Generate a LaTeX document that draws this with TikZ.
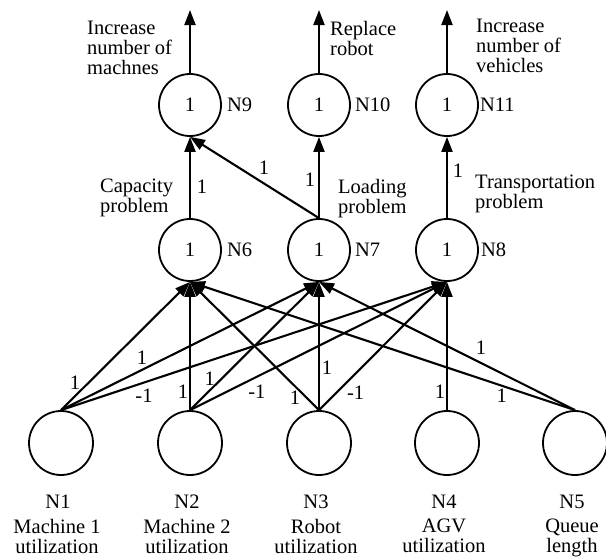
\documentclass[tikz,border=0pt]{standalone}
\usepackage{fontspec}
\setmainfont{Liberation Serif}
\usetikzlibrary{arrows.meta, positioning}

\begin{document}
\begin{tikzpicture}[x=1pt, y=-1pt,
  font=\fontsize{20.5}{20}\selectfont,
  inp/.style={draw, circle, line width=1.8pt, minimum size=64pt, inner sep=0pt},
  hid/.style={draw, circle, line width=1.8pt, minimum size=62pt, inner sep=0pt},
  link/.style={line width=2.1pt, -{Triangle[length=15pt, width=11pt]}},
  wt/.style={inner sep=0pt},
  lbl/.style={align=left, inner sep=0pt, anchor=north west}]
\useasboundingbox (0,0) rectangle (606,558);

% input layer
\node[inp] at (61,443) (n1) {};
\node[inp] at (190,443) (n2) {};
\node[inp] at (319,443) (n3) {};
\node[inp] at (447,443) (n4) {};
\node[inp] at (575,443) (n5) {};
\node[anchor=base] at (58,508) (t1) {N1};
\node[anchor=base] at (187,508) (t2) {N2};
\node[anchor=base] at (316,508) (t3) {N3};
\node[anchor=base] at (444,508) (t4) {N4};
\node[anchor=base] at (572,508) (t5) {N5};
\node[lbl, anchor=north, align=center] at (57,519) (u1) {Machine 1\\utilization};
\node[lbl, anchor=north, align=center] at (187,519) (u2) {Machine 2\\utilization};
\node[lbl, anchor=north, align=center] at (316,519) (u3) {Robot\\utilization};
\node[lbl, anchor=north, align=center] at (444,519) (u4) {AGV\\utilization};
\node[lbl, anchor=north, align=center] at (572,519) (u5) {Queue\\length};

% problem layer
\node[hid] at (190,250) (n6) {1};
\node[hid] at (319,250) (n7) {1};
\node[hid] at (447,250) (n8) {1};
\node[right=5pt of n6, inner sep=0pt] (l6) {N6};
\node[right=4pt of n7, inner sep=0pt] (l7) {N7};
\node[right=2pt of n8, inner sep=0pt] (l8) {N8};
\node[lbl] at (100,179) (p6) {Capacity\\problem};
\node[lbl] at (338,179) (p7) {Loading\\problem};
\node[lbl] at (475,175) (p8) {Transportation\\problem};

% action layer
\node[hid] at (190,105) (n9) {1};
\node[hid] at (319,105) (n10) {1};
\node[hid] at (447,105) (n11) {1};
\node[right=5pt of n9, inner sep=0pt] (l9) {N9};
\node[right=4pt of n10, inner sep=0pt] (l10) {N10};
\node[right=1pt of n11, inner sep=0pt] (l11) {N11};
\coordinate (o9) at (190,10);
\coordinate (o10) at (319,10);
\coordinate (o11) at (447,10);
\node[lbl] at (87,21) (a9) {Increase\\number of\\machnes};
\node[lbl] at (330,21) (a10) {Replace\\robot};
\node[lbl] at (476,19) (a11) {Increase\\number of\\vehicles};

% inputs to problems
\draw[link] (n1.north) -- node[wt, pos=.21, xshift=-13pt] {1} (n6.south);
\draw[link] (n1.north) -- node[wt, pos=.314, yshift=12pt] {1} (n7.south);
\draw[link] (n1.north) -- node[wt, pos=.215, yshift=-13pt] {-1} (n8.south);
\draw[link] (n2.north) -- node[wt, pos=.14, xshift=-7pt] {1} (n6.south);
\draw[link] (n2.north) -- node[wt, pos=.2, xshift=-6pt, yshift=6pt] {1} (n7.south);
\draw[link] (n2.north) -- node[wt, pos=.26, yshift=-15pt] {-1} (n8.south);
\draw[link] (n3.north) -- node[wt, pos=.186, yshift=-11pt] {1} (n6.south);
\draw[link] (n3.north) -- node[wt, pos=.327, xshift=8pt] {1} (n7.south);
\draw[link] (n3.north) -- node[wt, pos=.2, xshift=11pt, yshift=-8pt] {-1} (n8.south);
\draw[link] (n4.north) -- node[wt, pos=.14, xshift=-7pt] {1} (n8.south);
\draw[link] (n5.north) -- node[wt, pos=.367, yshift=15pt] {1} (n7.south);
\draw[link] (n5.north) -- node[wt, pos=.19, yshift=-10pt] {1} (n6.south);

% problems to actions
\draw[link] (n6.north) -- node[wt, pos=.384, xshift=12pt] {1} (n9.south);
\draw[link] (n7.north) -- node[wt, pos=.426, yshift=16pt] {1} (n9.south);
\draw[link] (n7.north) -- node[wt, pos=.47, xshift=-9pt] {1} (n10.south);
\draw[link] (n8.north) -- node[wt, pos=.58, xshift=11pt] {1} (n11.south);
\draw[link] (n9.north) -- (o9);
\draw[link] (n10.north) -- (o10);
\draw[link] (n11.north) -- (o11);

\end{tikzpicture}
\end{document}
